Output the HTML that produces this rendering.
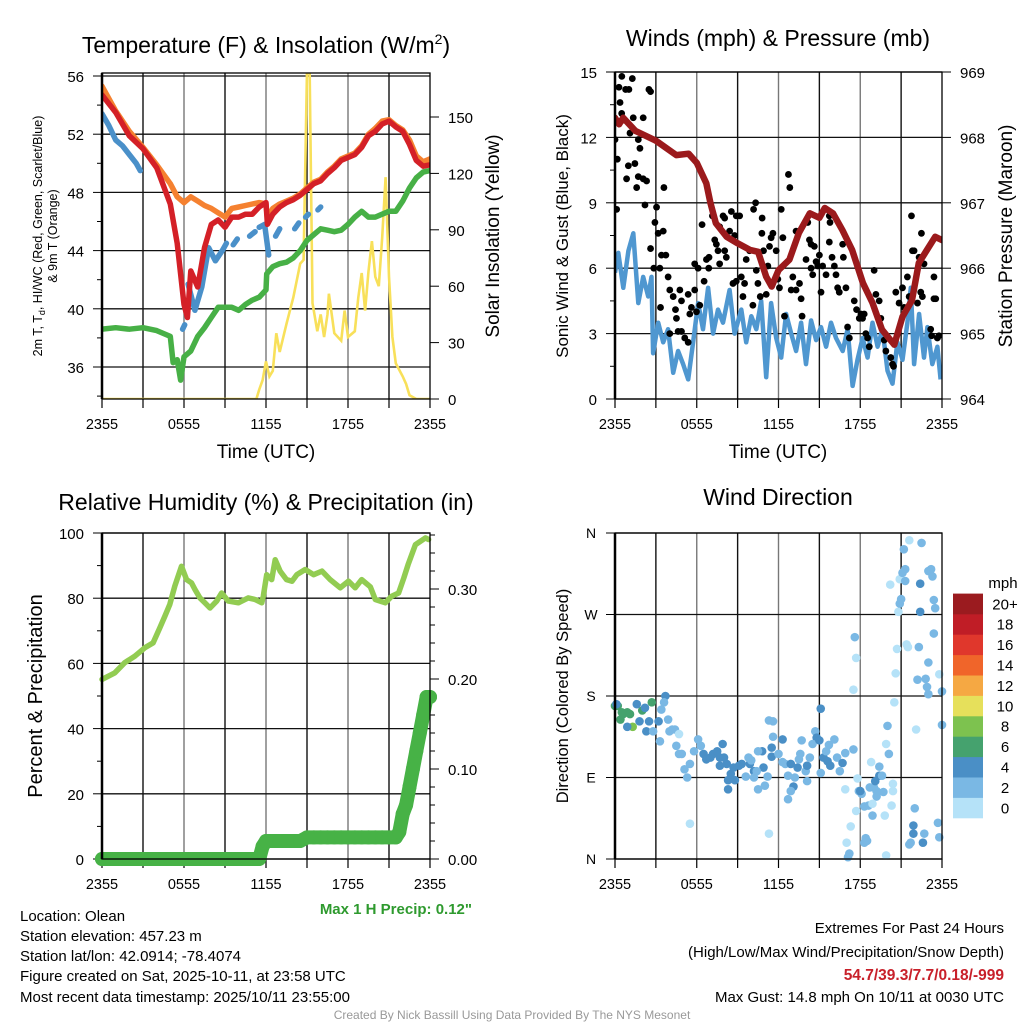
<!DOCTYPE html>
<html><head><meta charset="utf-8"><style>
body{margin:0;background:#fff;}
svg{display:block;font-family:"Liberation Sans",Arial,sans-serif;}
</style></head><body>
<svg id="fig" width="1024" height="1024" viewBox="0 0 1024 1024" xmlns="http://www.w3.org/2000/svg">
<defs>
<clipPath id="c1"><rect x="102" y="73" width="328" height="326"/></clipPath>
<clipPath id="c2"><rect x="615" y="72" width="327" height="327"/></clipPath>
<clipPath id="c3"><rect x="90" y="520" width="352" height="352"/></clipPath>
<clipPath id="c4"><rect x="605" y="520" width="345" height="352"/></clipPath>
</defs>
<text x="266" y="53" font-size="23" text-anchor="middle">Temperature (F) &amp; Insolation (W/m<tspan font-size="14" dy="-9">2</tspan><tspan dy="9">)</tspan></text>
<text x="778" y="46" font-size="23" text-anchor="middle">Winds (mph) &amp; Pressure (mb)</text>
<text x="266" y="510" font-size="23" text-anchor="middle">Relative Humidity (%) &amp; Precipitation (in)</text>
<text x="778" y="505" font-size="23" text-anchor="middle">Wind Direction</text>
<text x="266" y="458" font-size="19" text-anchor="middle">Time (UTC)</text>
<text x="778" y="458" font-size="19" text-anchor="middle">Time (UTC)</text>
<text transform="translate(42,236) rotate(-90)" font-size="12.5" text-anchor="middle">2m T, T<tspan font-size="9" dy="3">d</tspan><tspan dy="-3">, HI/WC (Red, Green, Scarlet/Blue)</tspan></text>
<text transform="translate(57,236) rotate(-90)" font-size="12.5" text-anchor="middle">&amp; 9m T (Orange)</text>
<text transform="translate(499,236) rotate(-90)" font-size="19" text-anchor="middle">Solar Insolation (Yellow)</text>
<text transform="translate(568,236) rotate(-90)" font-size="17" text-anchor="middle">Sonic Wind &amp; Gust (Blue, Black)</text>
<text transform="translate(1012,236) rotate(-90)" font-size="19" text-anchor="middle">Station Pressure (Maroon)</text>
<text transform="translate(42,696) rotate(-90)" font-size="20" text-anchor="middle">Percent &amp; Precipitation</text>
<text transform="translate(568,696) rotate(-90)" font-size="16.5" text-anchor="middle">Direction (Colored By Speed)</text>
<g id="plots"></g>
<text x="472" y="914" font-size="15" font-weight="bold" fill="#2e9a2e" text-anchor="end">Max 1 H Precip: 0.12"</text>
<g font-size="15">
<text x="20" y="921">Location: Olean</text>
<text x="20" y="941">Station elevation: 457.23 m</text>
<text x="20" y="961">Station lat/lon: 42.0914; -78.4074</text>
<text x="20" y="981">Figure created on Sat, 2025-10-11, at 23:58 UTC</text>
<text x="20" y="1002">Most recent data timestamp: 2025/10/11 23:55:00</text>
</g>
<g font-size="15" text-anchor="end">
<text x="1004" y="933">Extremes For Past 24 Hours</text>
<text x="1004" y="957">(High/Low/Max Wind/Precipitation/Snow Depth)</text>
<text x="1004" y="980" font-weight="bold" fill="#c8202a" font-size="15.5">54.7/39.3/7.7/0.18/-999</text>
<text x="1004" y="1002">Max Gust: 14.8 mph On 10/11 at 0030 UTC</text>
</g>
<text x="512" y="1019" font-size="12" fill="#999" text-anchor="middle">Created By Nick Bassill Using Data Provided By The NYS Mesonet</text>
</svg>
<script>
// ---- data ----
const timeTickLabels=["2355","0555","1155","1755","2355"];
const tempTicks=[36,40,44,48,52,56];
const solarTicks=[0,30,60,90,120,150];
const windTicks=[0,3,6,9,12,15];
const presTicks=[964,965,966,967,968,969];
const rhTicks=[0,20,40,60,80,100];
const precipTicks=[0,0.1,0.2,0.3];
const dirTicks=["N","E","S","W","N"];
const speedBins=["0","2","4","6","8","10","12","14","16","18","20+"];
const speedColors=["#b5e2f8","#7ab8e4","#4a8fc6","#45a26e","#7dc24f","#e6e05b","#f5a843","#f0652a","#e0372c","#c01d26","#9b1b1f"];

const redT=[0,1,2,3,4,5,5.5,6,6.25,6.5,7,7.5,8,8.5,9,9.5,10,10.5,11,11.5,12,12.1,12.5,13,13.5,14,14.5,15,15.5,16,16.5,17,17.5,18,18.5,19,19.5,20,20.5,21,21.5,22,22.5,23,23.5,24];
const redV=[54.7,53.5,51.9,51.0,49.7,47.2,44.5,40.3,39.4,42.6,41.5,44.2,45.8,46.1,45.6,46.3,46.3,46.5,46.5,47.0,47.3,45.8,46.5,47.0,47.3,47.5,47.8,48.2,48.6,48.8,49.3,49.7,50.2,50.4,50.6,51.1,51.9,52.2,52.7,52.9,52.5,52.2,51.3,50.2,49.8,49.9];
const orangeT=[0,1,2,3,4,5,5.5,6,6.5,7,7.5,8,8.5,9,9.5,10,10.5,11,11.5,12,12.1,12.5,13,13.5,14,14.5,15,15.5,16,16.5,17,17.5,18,18.5,19,19.5,20,20.5,21,21.5,22,22.5,23,23.5,24];
const orangeV=[55.3,53.6,52.2,51.1,49.9,48.6,47.7,47.3,47.7,47.4,47.1,46.9,46.6,46.3,46.9,47.0,47.1,47.2,47.3,47.2,46.2,46.9,47.2,47.4,47.6,47.9,48.3,48.7,48.9,49.4,49.8,50.3,50.5,50.7,51.2,52.0,52.4,52.9,53.0,52.6,52.3,51.6,50.5,50.1,50.3];
const blueT=[0,0.5,1,1.5,2,2.5,2.8,3,5.9,6.05,6.2,6.3,6.8,7.3,7.8,8.3,8.8,9.1,9.2,9.6,9.9,10.0,10.8,11.2,11.3,11.5,11.9,12.2,12.3,12.7,13.0,13.1,14.1,14.4,14.5,14.9,15.1,15.2,15.8,16.0,16.1];
const blueV=[53.4,52.6,51.6,51.2,50.6,50.0,49.5,null,38.6,38.9,null,41.7,39.9,41.5,44.2,43.3,44.0,44.5,null,44.4,44.8,null,45.0,45.3,null,45.6,45.8,43.7,null,45.0,45.5,null,45.5,45.9,null,46.3,46.5,null,46.8,47.0,null];
const greenT=[0,1,2,3,4,4.5,5,5.2,5.5,5.75,6,6.5,7,7.5,8,8.5,9,9.5,10,10.5,11,11.5,12,12.05,12.5,13,13.5,14,14.5,15,15.5,16,16.5,17,17.5,18,18.5,19,19.5,20,20.5,21,21.5,22,22.5,23,23.5,24];
const greenV=[38.6,38.7,38.6,38.7,38.5,38.3,38.1,36.3,36.5,35.1,36.7,37.1,38.1,38.7,39.4,40.1,40.1,40.1,39.9,40.3,40.6,40.8,41.3,42.4,42.9,43.1,43.2,43.5,44.0,44.7,45.1,45.5,45.4,45.3,45.4,45.8,46.3,46.7,46.3,46.3,46.5,46.7,46.7,47.4,48.3,49.0,49.4,49.5];
const solarT=[0,11.3,11.5,11.75,12,12.25,12.5,12.75,13,13.5,14,14.5,14.75,15,15.2,15.4,15.75,16,16.25,16.5,16.6,17,17.5,17.75,18,18.5,18.75,19,19.25,19.5,19.75,20,20.25,20.5,20.75,21,21.25,21.5,22,22.25,22.5,23,24];
const solarV=[0,0,5,10,20,12,15,35,25,40,54,72,74,175,173,51,36,45,33,45,56,35,31,47,33,36,54,67,47,68,84,65,60,86,118,65,33,19,12,8,2,0,0];

const presT=[0,0.3,0.6,1.5,3,4.5,5.4,6,6.7,7,7.4,8.2,9,9.9,10.5,11.1,11.5,12,12.8,13.5,14.3,15,15.4,16,16.7,17.4,18.2,18.9,19.6,20.5,21.1,21.8,22.3,22.9,23.5,24];
const presV=[968.3,968.2,968.3,968.1,967.95,967.73,967.75,967.61,967.3,967.0,966.69,966.48,966.38,966.28,966.25,965.87,965.72,965.97,966.13,966.54,966.84,966.77,966.92,966.84,966.58,966.28,965.77,965.47,965.06,964.83,965.26,965.51,966.08,966.28,966.48,966.43];
const windT=[0,0.24,0.61,0.98,1.34,1.71,2.07,2.44,2.68,2.8,3.17,3.54,3.9,4.27,4.63,5.0,5.37,5.73,6.1,6.46,6.83,7.2,7.56,7.93,8.41,8.78,9.27,9.63,10.0,10.37,10.73,11.1,11.46,11.83,12.2,12.56,12.93,13.29,13.66,14.02,14.39,14.76,15.12,15.49,15.85,16.22,16.71,17.07,17.44,17.8,18.17,18.54,18.9,19.27,19.63,20.0,20.37,20.73,21.1,21.46,21.71,21.95,22.32,22.68,22.93,23.29,23.66,23.9];
const windV=[5.8,6.7,5.1,6.8,7.6,4.4,5.6,4.7,5.6,2.1,3.5,2.6,3.2,1.2,2.2,1.6,0.9,2.6,4.4,3.2,5.1,3.0,4.1,3.5,5.0,3.0,4.1,2.6,3.8,3.2,4.5,1.0,4.4,2.8,1.9,3.9,3.0,2.2,3.5,1.6,3.6,2.7,3.3,2.4,3.5,2.8,2.2,3.2,0.6,1.8,2.8,1.9,3.5,2.4,3.2,1.3,0.7,2.6,1.8,3.5,5.1,1.6,3.9,1.9,3.3,1.6,2.4,0.9];
const gustT=[0.5,1.27,0.29,0.78,1.02,2.49,2.61,0.37,0.49,1.34,2.07,0,1.1,0.17,0.98,1.46,1.83,1.71,1.71,2.07,2.32,0.85,1.59,2.2,0.12,3.59,3.05,2.93,3.17,3.54,2.61,3.29,2.85,3.73,3.41,3.9,4.02,4.76,4.27,3.34,5.37,4.88,4.44,5.61,5.49,4.51,4.02,4.63,4.88,5.12,5.37,5.85,6.1,6.39,6.88,6.9,6.54,5.85,6.22,5.98,6.71,7.32,7.44,7.15,7.68,7.56,7.68,8.05,8.17,7.93,8.05,8.41,8.54,8.78,8.9,9.15,8.66,8.9,9.27,9.51,9.39,9.63,9.88,10.17,10.32,10.37,10.12,10.49,10.66,10.8,10.78,10.9,11.1,11.22,11.59,11.46,11.34,11.83,11.95,12.07,12.2,12.32,12.44,12.73,12.83,12.93,13.05,13.29,13.29,13.54,13.66,13.73,14.02,14.15,14.27,14.39,14.39,14.51,14.63,14.76,14.88,15.0,15.12,15.24,15.49,15.73,15.78,15.73,15.93,16.1,16.22,16.34,16.46,16.71,16.76,16.95,17.07,17.2,17.56,17.73,17.93,18.05,18.17,18.29,18.41,18.54,18.66,19.02,19.15,19.39,19.51,19.76,19.88,20.24,20.37,20.44,20.61,20.85,21.1,21.22,21.46,21.59,21.76,21.83,21.95,22.2,22.32,22.44,22.49,22.56,22.68,23.17,23.24,23.41,23.41,23.54,23.66,23.78];
const gustV=[14.8,14.7,14.3,14.2,14.2,14.2,14.1,13.6,13.1,12.9,12.9,11.9,12.2,11.0,10.7,10.8,11.5,11.9,10.2,10.1,10.0,10.1,9.7,8.9,8.7,9.7,8.8,8.1,7.6,7.7,6.9,6.0,6.0,6.6,6.6,5.6,5.0,5.0,4.7,4.2,4.8,4.5,4.1,4.2,3.9,3.7,3.0,3.1,3.1,2.8,2.6,6.2,6.0,8.0,6.0,6.5,5.4,5.0,4.3,4.0,6.4,7.3,7.1,8.4,7.9,6.8,6.2,6.8,6.5,8.4,8.3,7.7,8.6,7.5,8.4,8.4,5.3,5.4,5.6,5.3,4.7,6.4,6.8,8.7,9.0,5.9,4.3,5.3,4.7,8.3,7.6,6.8,4.8,6.1,7.6,7.4,7.0,6.8,5.5,5.1,8.7,7.4,3.8,10.3,9.7,5.0,5.6,7.7,5.0,5.3,4.6,3.8,6.4,8.1,7.3,7.1,6.0,5.7,7.0,6.3,6.1,6.6,4.9,6.1,5.7,8.4,8.1,7.2,6.5,6.1,5.7,5.1,4.9,7.1,6.5,5.1,3.3,2.8,4.5,4.1,3.7,3.9,3.7,3.9,3.0,2.8,2.4,5.9,4.8,4.5,3.7,2.7,2.2,1.9,1.6,1.5,4.9,4.4,5.1,4.2,5.6,4.7,8.4,6.8,6.8,4.4,6.5,4.9,7.6,4.7,6.2,3.2,2.9,5.6,4.6,4.6,2.8,2.9];

const rhT=[0,0.93,1.66,2.4,3.13,3.74,4.23,4.6,4.96,5.33,5.82,6.19,6.55,6.8,7.16,7.53,7.9,8.39,8.75,9.24,9.98,10.7,11.2,11.69,11.8,12.05,12.42,12.67,13.03,13.5,13.9,14.25,14.87,15.48,16.1,16.7,17.43,18.04,18.53,19.0,19.63,20.0,20.73,21.2,21.7,22.08,22.4,22.93,23.67,23.9];
const rhV=[55.1,57.1,60.2,62.2,64.8,66.3,70.9,74.5,78.1,83.7,89.8,85.7,84.7,82.7,80.1,78.6,77.0,79.1,81.6,79.1,78.6,80.1,79.6,78.6,80.6,87.2,85.7,91.8,88.3,85.7,85.2,87.2,88.8,87.2,88.3,85.7,83.2,85.2,83.2,85.7,83.5,79.6,78.6,80.6,81.6,86.2,90.3,96.4,98.5,98.0];
const precipT=[0,0.5,1,1.5,2,2.5,3,3.5,4,4.5,5,5.5,6,6.5,7,7.5,8,8.5,9,9.5,10,10.5,11,11.5,11.75,12,12.5,13,13.5,14,14.5,15,15.5,16,16.5,17,17.5,18,18.5,19,19.5,20,20.5,21,21.5,21.75,22,22.25,22.5,22.75,23,23.25,23.5,23.75,24];
const precipV=[0,0,0,0,0,0,0,0,0,0,0,0,0,0,0,0,0,0,0,0,0,0,0,0,0.014,0.02,0.02,0.02,0.02,0.02,0.02,0.024,0.024,0.024,0.024,0.024,0.024,0.024,0.024,0.024,0.024,0.024,0.024,0.024,0.024,0.03,0.05,0.06,0.08,0.1,0.12,0.14,0.16,0.18,0.18];

const dirT=[0.0,0.2,0.4,0.6,0.9,1.1,0.5,2.0,2.7,1.3,1.6,2.2,2.3,0.9,1.8,2.5,3.2,3.7,0.1,2.8,3.4,3.6,3.9,4.2,4.4,3.3,4.0,4.5,4.7,4.9,5.1,5.3,5.5,5.8,6.1,6.3,4.7,5.5,6.5,6.7,7.0,7.2,7.5,7.7,8.0,7.7,7.9,8.2,8.5,8.7,8.3,8.8,8.3,9.1,9.3,9.9,10.2,10.8,10.9,9.8,10.0,10.4,10.5,9.6,10.2,11.2,10.5,11.0,11.3,11.6,11.6,11.5,11.5,12.0,12.3,12.3,12.5,12.9,12.7,13.1,12.9,12.7,13.2,13.4,13.5,13.6,13.7,14.0,14.1,14.1,14.3,14.7,14.8,14.5,15.0,15.1,15.3,15.6,15.7,15.8,16.1,16.3,16.5,16.7,16.9,17.5,11.3,15.5,15.1,17.5,17.6,17.7,17.8,17.9,18.1,18.0,17.7,18.3,18.6,18.4,18.5,18.3,17.3,17.0,17.2,17.1,16.9,18.8,18.7,19.0,19.1,19.2,19.4,19.6,19.4,18.9,19.2,18.9,19.7,19.8,20.3,20.4,20.4,19.9,20.1,19.9,20.0,20.5,20.6,20.7,20.8,20.9,21.0,20.2,20.9,21.1,21.3,21.3,21.2,21.6,22.5,22.4,22.4,23.3,23.2,23.0,23.4,23.5,23.4,21.4,21.5,22.3,23.0,22.2,22.8,22.9,23.0,23.8,24.0,22.1,24.0,22.0,21.9,21.9,21.7,21.6,22.7,22.6,23.7,23.8];
const dirV=[169,169,154,160,162,160,162,164,173,146,171,167,141,146,152,152,152,180,171,141,165,173,154,143,143,130,141,125,116,116,99,90,105,119,132,125,138,39,116,110,112,116,119,112,112,103,127,105,94,101,87,87,77,103,105,105,97,119,101,112,109,97,119,91,90,91,77,81,153,152,135,123,113,116,132,107,105,105,92,80,75,66,90,101,110,116,131,97,103,86,112,141,134,127,131,166,112,108,126,103,132,112,97,106,117,121,28,119,95,187,245,222,89,75,72,75,53,58,59,23,20,18,36,18,6,2,77,107,79,79,86,75,92,92,102,48,69,61,74,48,59,75,83,4,116,127,147,173,205,232,273,282,287,303,309,316,320,307,342,352,349,304,273,312,320,318,286,277,249,237,234,234,217,198,199,190,182,204,185,143,148,56,37,28,18,16,28,18,40,24];
const dirSpd=[7,7,7,7,7,7,7,7,7,9,5,5,5,5,5,5,5,5,5,3,3,3,3,3,3,3,3,3,3,3,3,3,3,3,3,3,1,1,5,5,5,5,5,5,5,5,5,5,5,5,5,5,5,5,5,5,5,5,5,3,3,3,3,3,3,3,3,3,3,3,3,5,5,3,5,3,3,5,3,5,3,3,3,5,3,3,3,3,5,3,3,3,5,3,5,5,5,5,3,5,3,3,3,5,3,3,1,3,3,1,3,1,1,3,3,5,1,3,3,3,3,3,1,1,3,3,1,1,3,3,5,3,5,3,3,3,3,1,3,1,1,1,1,1,3,1,3,1,1,1,1,3,3,1,1,3,3,3,3,1,3,5,5,3,3,3,3,3,3,1,1,3,3,3,3,3,3,1,3,1,3,3,5,5,3,3,3,5,3,3];

// ---- drawing ----
const NS="http://www.w3.org/2000/svg";
const root=document.getElementById('plots');
function mk(tag,attrs,parent){const e=document.createElementNS(NS,tag);for(const k in attrs)e.setAttribute(k,attrs[k]);(parent||root).appendChild(e);return e;}
function txt(s,x,y,size,anchor,parent){const e=mk('text',{x:x,y:y,'font-size':size,'text-anchor':anchor},parent);e.textContent=s;return e;}
function pathFrom(ts,vs,sx,sy){let d='',pen=false;for(let i=0;i<ts.length;i++){if(vs[i]===null||vs[i]===undefined){pen=false;continue;}d+=(pen?'L':'M')+sx(ts[i]).toFixed(1)+' '+sy(vs[i]).toFixed(1)+' ';pen=true;}return d;}

function panelBase(x0,x1,y0,y1,name){
  const g=mk('g',{});
  
  
  const sx=h=>x0+h*(x1-x0)/24;
  for(let i=1;i<8;i++){const x=sx(i*3);const l=mk('line',{x1:x,x2:x,y1:y0,y2:y1,stroke:i%2?'#111':'#777','stroke-width':1.4},g);
    
    }
  for(let i=0;i<=8;i++){const x=sx(i*3);mk('line',{x1:x,x2:x,y1:y1,y2:y1+9,stroke:'#000','stroke-width':1.2},g);}
  for(let i=0;i<timeTickLabels.length;i++){const t=txt(timeTickLabels[i],sx(i*6),y1+30,14.5,'middle',g);
    
    }
  return {g,sx};
}
function frame(x0,x1,y0,y1,g){mk('rect',{x:x0,y:y0,width:x1-x0,height:y1-y0,fill:'none',stroke:'#000','stroke-width':1.3},g);mk('line',{x1:x0,x2:x0,y1:y0,y2:y1,stroke:'#000','stroke-width':2.5},g);}

// Panel 1
(function(){
  const x0=102,x1=430,y0=73,y1=399;
  const {g,sx}=panelBase(x0,x1,y0,y1,'temperature');
  const sy=v=>76+(56-v)*14.55;
  const ss=v=>399-v*1.88;
  tempTicks.forEach(v=>{const y=sy(v);mk('line',{x1:x0,x2:x1,y1:y,y2:y,stroke:'#111','stroke-width':1.3},g);mk('line',{x1:x0-9,x2:x0,y1:y,y2:y,stroke:'#000'},g);
    const t=txt(String(v),x0-18,y+6,15,'end',g);
    
    
    mk('line',{x1:x0-5,x2:x0,y1:sy(v-2),y2:sy(v-2),stroke:'#000'},g);});
  solarTicks.forEach(v=>{const y=ss(v);mk('line',{x1:x1,x2:x1+9,y1:y,y2:y,stroke:'#000'},g);
    const t=txt(String(v),x1+18,y+6,15,'start',g);
    
    });
  const cg=mk('g',{'clip-path':'url(#c1)'});
  const sol=mk('path',{d:pathFrom(solarT,solarV,sx,ss),fill:'none',stroke:'#f8e05a','stroke-width':2.6},cg);
  
  
  const gr=mk('path',{d:pathFrom(greenT,greenV,sx,sy),fill:'none',stroke:'#47b046','stroke-width':5.5,'stroke-linejoin':'round','stroke-linecap':'round'},cg);
  
  
  const bl=mk('path',{d:pathFrom(blueT,blueV,sx,sy),fill:'none',stroke:'#4a90c9','stroke-width':5.5,'stroke-linejoin':'round','stroke-linecap':'round'},cg);
  
  
  const or=mk('path',{d:pathFrom(orangeT,orangeV,sx,sy),fill:'none',stroke:'#f58130','stroke-width':5.5,'stroke-linejoin':'round','stroke-linecap':'round'},cg);
  
  
  const rd=mk('path',{d:pathFrom(redT,redV,sx,sy),fill:'none',stroke:'#d42027','stroke-width':5.5,'stroke-linejoin':'round','stroke-linecap':'round'},cg);
  
  
  frame(x0,x1,y0,y1,root);
})();

// Panel 2
(function(){
  const x0=615,x1=942,y0=72,y1=399;
  const {g,sx}=panelBase(x0,x1,y0,y1,'winds');
  const sy=v=>399-v*21.8;
  const sp=v=>399-(v-964)*65.4;
  windTicks.forEach(v=>{const y=sy(v);mk('line',{x1:x0,x2:x1,y1:y,y2:y,stroke:'#111','stroke-width':1.3},g);mk('line',{x1:x0-9,x2:x0,y1:y,y2:y,stroke:'#000'},g);
    const t=txt(String(v),x0-18,y+6,15,'end',g);
    
    
    if(v<15)mk('line',{x1:x0-5,x2:x0,y1:sy(v+1.5),y2:sy(v+1.5),stroke:'#000'},g);});
  presTicks.forEach(v=>{const y=sp(v);mk('line',{x1:x1,x2:x1+9,y1:y,y2:y,stroke:'#000'},g);
    const t=txt(String(v),x1+18,y+6,15,'start',g);
    
    });
  const cg=mk('g',{'clip-path':'url(#c2)'});
  const w=mk('path',{d:pathFrom(windT,windV,sx,sy),fill:'none',stroke:'#4f97d0','stroke-width':4.5,'stroke-linejoin':'round'},cg);
  
  
  const gg=mk('g',{},cg);
  
  
  for(let i=0;i<gustT.length;i++){const c=mk('circle',{cx:sx(gustT[i]),cy:sy(gustV[i]),r:3.4,fill:'#000'},gg);
    
    }
  const p=mk('path',{d:pathFrom(presT,presV,sx,sp),fill:'none',stroke:'#9b1a1c','stroke-width':6.5,'stroke-linejoin':'round','stroke-linecap':'round'},cg);
  
  
  frame(x0,x1,y0,y1,root);
})();

// Panel 3
(function(){
  const x0=102,x1=430,y0=533,y1=859;
  const {g,sx}=panelBase(x0,x1,y0,y1,'humidity');
  const sy=v=>859-v*3.26;
  const sq=v=>859-v*900;
  rhTicks.forEach(v=>{const y=sy(v);mk('line',{x1:x0,x2:x1,y1:y,y2:y,stroke:'#111','stroke-width':1.3},g);mk('line',{x1:x0-9,x2:x0,y1:y,y2:y,stroke:'#000'},g);
    const t=txt(String(v),x0-18,y+6,15,'end',g);
    
    
    if(v<100)mk('line',{x1:x0-5,x2:x0,y1:sy(v+10),y2:sy(v+10),stroke:'#000'},g);});
  precipTicks.forEach(v=>{const y=sq(v);mk('line',{x1:x1,x2:x1+9,y1:y,y2:y,stroke:'#000'},g);
    const t=txt(v.toFixed(2),x1+18,y+6,15,'start',g);
    
    
    for(let k=1;k<5;k++){const yy=sq(v+k*0.02);if(yy>y0)mk('line',{x1:x1,x2:x1+5,y1:yy,y2:yy,stroke:'#000'},g);}});
  const cg=mk('g',{'clip-path':'url(#c3)'});
  const rh=mk('path',{d:pathFrom(rhT,rhV,sx,sy),fill:'none',stroke:'#92cc52','stroke-width':5.5,'stroke-linejoin':'round','stroke-linecap':'round'},cg);
  
  
  const pl=mk('path',{d:pathFrom(precipT,precipV,sx,sq),fill:'none',stroke:'#47b246','stroke-width':14,'stroke-linejoin':'round','stroke-linecap':'round'},cg);
  
  
  for(let i=0;i<precipT.length;i++){const c=mk('circle',{cx:sx(precipT[i]),cy:sq(precipV[i]),r:7,fill:'#47b246'},cg);
    
    }
  frame(x0,x1,y0,y1,root);
})();

// Panel 4
(function(){
  const x0=615,x1=942,y0=533,y1=859;
  const {g,sx}=panelBase(x0,x1,y0,y1,'wind-direction');
  const sy=v=>859-v*(326/360);
  dirTicks.forEach((s,i)=>{const y=sy(i*90);mk('line',{x1:x0,x2:x1,y1:y,y2:y,stroke:'#111','stroke-width':1.3},g);mk('line',{x1:x0-9,x2:x0,y1:y,y2:y,stroke:'#000'},g);
    const t=txt(s,x0-24,y+5,14,'middle',g);
    
    });
  const cg=mk('g',{'clip-path':'url(#c4)'});
  for(let i=0;i<dirT.length;i++){const bin=Math.min(10,Math.floor(dirSpd[i]/2));
    const c=mk('circle',{cx:sx(dirT[i]),cy:sy(dirV[i]),r:4.3,fill:speedColors[bin]},cg);
    
    }
  frame(x0,x1,y0,y1,root);
  const lg=mk('g',{});
  
  
  const t=txt('mph',1003,588,15,'middle',lg);
  
  
  const bh=20.4;
  for(let i=0;i<speedBins.length;i++){const y=818-(i+1)*bh;
    const r=mk('rect',{x:953,y:y,width:30,height:bh+0.3,fill:speedColors[i]},lg);
    
    
    const l=txt(speedBins[i],1005,y+bh/2+5.5,15,'middle',lg);
    
    }
})();
</script>
</body></html>
